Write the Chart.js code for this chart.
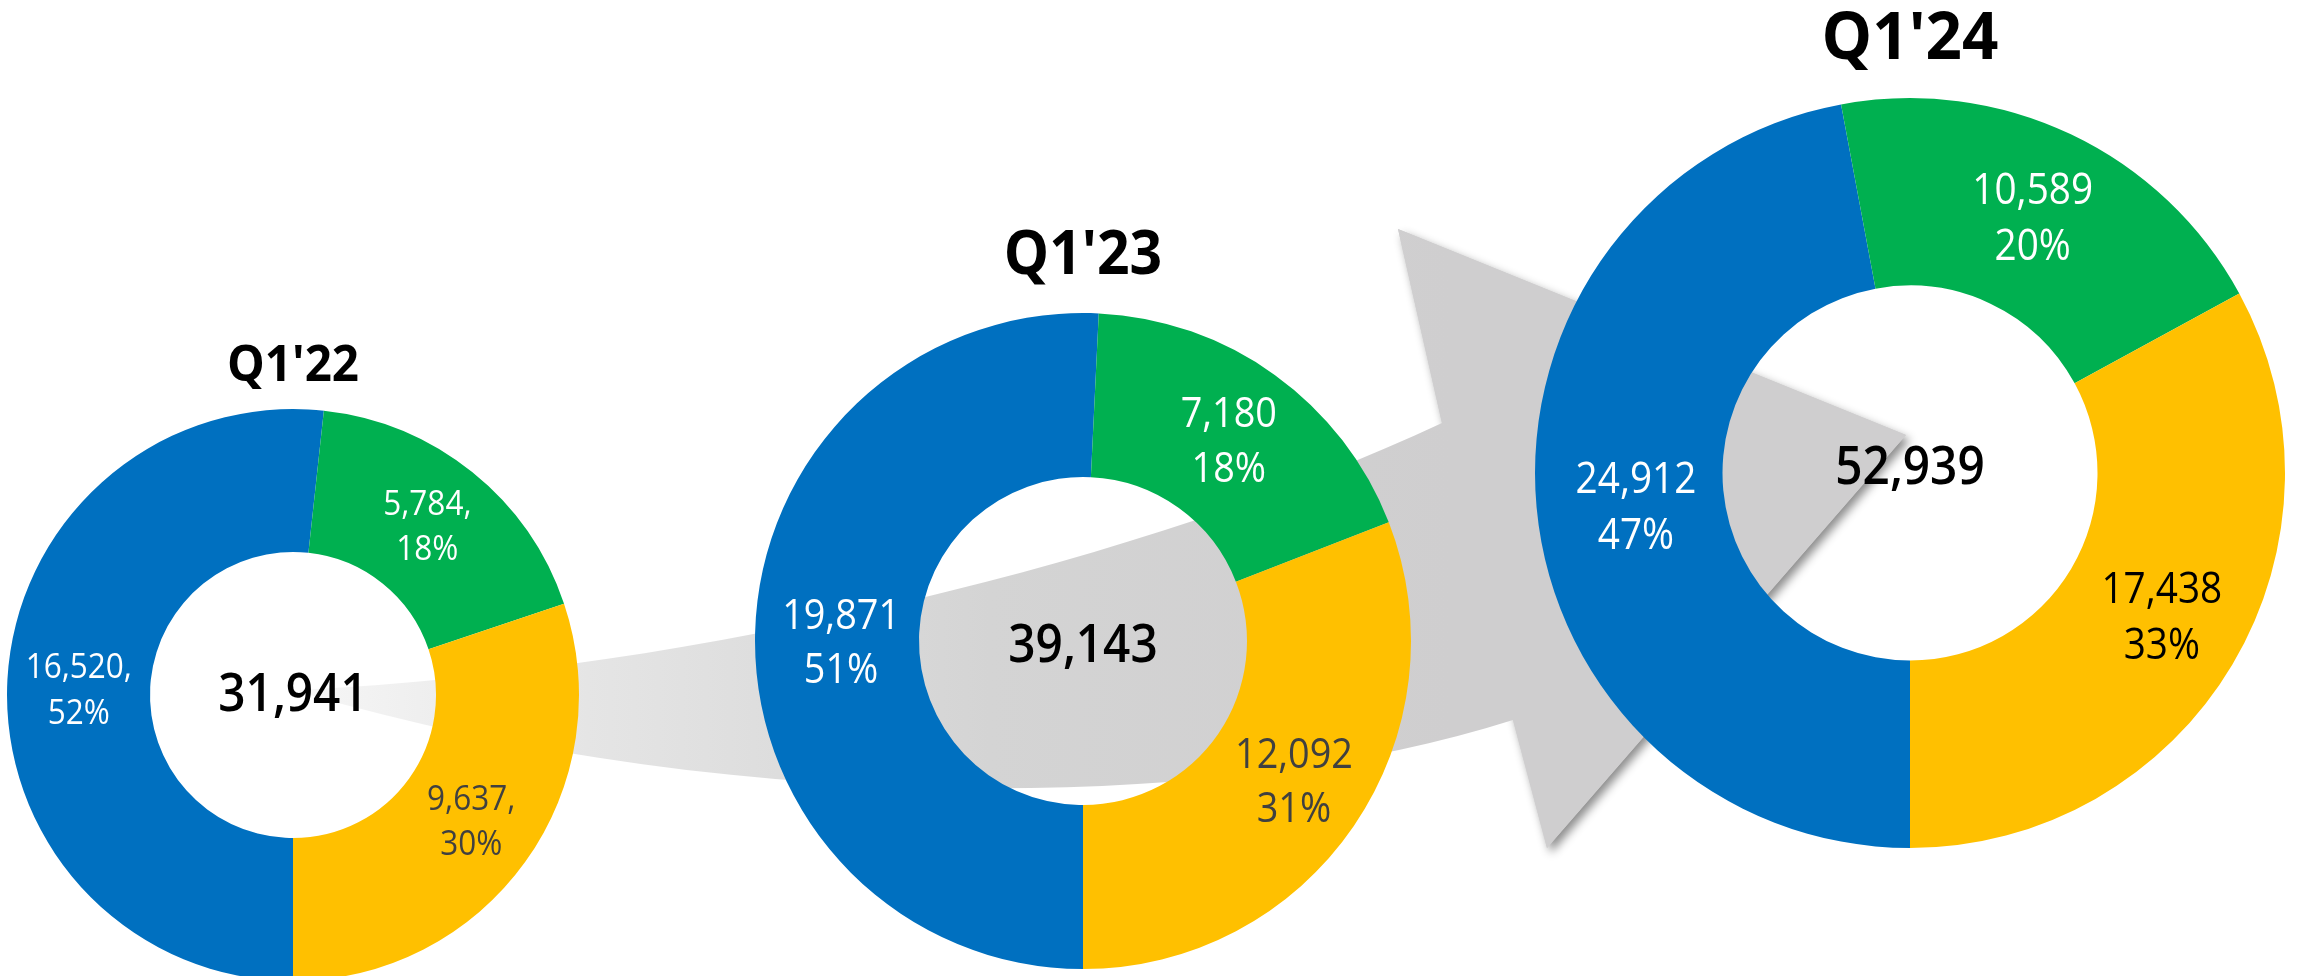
<!DOCTYPE html>
<html>
<head>
<meta charset="utf-8">
<script src="https://cdn.jsdelivr.net/npm/chart.js@4.4.1/dist/chart.umd.min.js"></script>
<style>
  html, body { margin: 0; padding: 0; background: #fff; overflow: hidden; }
  #stage { position: relative; width: 2300px; height: 976px; overflow: hidden; }
  #arrow { position: absolute; left: 0; top: 0; }
  .donut { position: absolute; }
</style>
</head>
<body>
<div id="stage">
  <canvas id="arrow" width="2300" height="976"></canvas>
  <canvas class="donut" id="c0"></canvas>
  <canvas class="donut" id="c1"></canvas>
  <canvas class="donut" id="c2"></canvas>
</div>
<script>
// Data
const quarters = ["Q1'22", "Q1'23", "Q1'24"];
const segmentNames = ["Segment A", "Segment B", "Segment C"];
const q122 = [16520, 5784, 9637];
const q123 = [19871, 7180, 12092];
const q124 = [24912, 10589, 17438];
const quarterValues = [q122, q123, q124];
const sliceColors = ["#0070C0", "#00B050", "#FFC000"];

// Where each donut sits on the page, and its text sizes
const layouts = [
  { cx: 293, cy: 695, r: 286, titleY: 363, titleSize: 50, centerY: 692, centerSize: 53, labelSize: 35, sep: ",",
    labelColors: ["#ffffff", "#ffffff", "#404040"], nudge: [[0, 5], [0, -3], [4, 0]] },
  { cx: 1083, cy: 641, r: 328, titleY: 253, titleSize: 60, centerY: 643, centerSize: 53, labelSize: 42, sep: "",
    labelColors: ["#ffffff", "#ffffff", "#404040"], nudge: [[4, 6], [2, -2], [8, 0]] },
  { cx: 1910, cy: 473, r: 375, titleY: 35, titleSize: 67, centerY: 465, centerSize: 53, labelSize: 43, sep: "",
    labelColors: ["#ffffff", "#ffffff", "#000000"], nudge: [[6, 7], [2, -2], [10, -1]] }
];

const FONT = '"Open Sans", "Noto Sans", sans-serif';
const TEXT_SX = 0.9;   // reference glyphs run a little narrower than Open Sans
const TITLE_SX = 0.95;
const fmt = (v) => v.toLocaleString("en-US");

function squeezedText(ctx, text, x, y, sx) {
  ctx.save();
  ctx.translate(x, y);
  ctx.scale(sx, 1);
  ctx.fillText(text, 0, 0);
  ctx.restore();
}

// Slice labels, total in the hole and the quarter title
const donutText = {
  id: "donutText",
  afterDatasetsDraw(chart, args, opts) {
    const ctx = chart.ctx;
    const arcs = chart.getDatasetMeta(0).data;
    const values = chart.data.datasets[0].data;
    const total = values.reduce((a, b) => a + b, 0);
    const cx = arcs[0].x, cy = arcs[0].y;
    ctx.save();
    ctx.textAlign = "center";
    ctx.textBaseline = "alphabetic";

    ctx.font = `500 ${opts.labelSize}px ${FONT}`;
    const gap = opts.labelSize * 1.3;
    arcs.forEach((arc, i) => {
      const p = arc.getCenterPoint();
      const x = p.x + opts.nudge[i][0];
      const y = p.y + opts.nudge[i][1];
      const lines = [fmt(values[i]) + opts.sep, Math.round(values[i] / total * 100) + "%"];
      ctx.fillStyle = opts.labelColors[i];
      lines.forEach((t, k) => {
        squeezedText(ctx, t, x, y + (k - 0.5) * gap + 0.357 * opts.labelSize, TEXT_SX);
      });
    });

    ctx.fillStyle = "#000000";
    ctx.font = `600 ${opts.centerSize}px ${FONT}`;
    squeezedText(ctx, fmt(total), cx, cy + opts.centerDy + 0.357 * opts.centerSize, TEXT_SX);

    ctx.font = `bold ${opts.titleSize}px ${FONT}`;
    squeezedText(ctx, opts.title, cx, cy + opts.titleDy + 0.357 * opts.titleSize, TITLE_SX);
    ctx.restore();
  }
};

// Big grey arrow behind the donuts
function drawArrow() {
  const ctx = document.getElementById("arrow").getContext("2d");
  const head = [[1442, 423], [1398, 229], [1906, 435], [1547, 848], [1513, 720]];

  ctx.save();
  ctx.shadowColor = "rgba(0,0,0,0.45)";
  ctx.shadowBlur = 10;
  ctx.shadowOffsetX = 4;
  ctx.shadowOffsetY = 5;
  ctx.fillStyle = "#cfcecf";
  ctx.beginPath();
  head.forEach(([x, y], i) => (i ? ctx.lineTo(x, y) : ctx.moveTo(x, y)));
  ctx.closePath();
  ctx.fill();
  ctx.restore();

  const g = ctx.createLinearGradient(300, 0, 1450, 0);
  g.addColorStop(0, "#f6f6f6");
  g.addColorStop(0.25, "#e5e5e5");
  g.addColorStop(0.6, "#d4d4d4");
  g.addColorStop(1, "#cfcecf");
  ctx.fillStyle = g;
  ctx.beginPath();
  ctx.moveTo(300, 690);
  ctx.bezierCurveTo(700, 670, 1150, 560, 1442, 423);
  ctx.lineTo(1398, 229);
  ctx.lineTo(1906, 435);
  ctx.lineTo(1547, 848);
  ctx.lineTo(1513, 720);
  ctx.bezierCurveTo(1200, 820, 700, 810, 300, 692);
  ctx.closePath();
  ctx.fill();
}

function makeDonut(i) {
  const L = layouts[i];
  const canvas = document.getElementById("c" + i);
  const W = 2 * L.r + 40;
  const half = Math.max(L.r + 20, L.cy - L.titleY + L.titleSize);
  const H = 2 * half;
  canvas.width = W;
  canvas.height = H;
  canvas.style.width = W + "px";
  canvas.style.height = H + "px";
  canvas.style.left = (L.cx - W / 2) + "px";
  canvas.style.top = (L.cy - half) + "px";

  new Chart(canvas, {
    type: "doughnut",
    data: {
      labels: segmentNames,
      datasets: [{
        data: quarterValues[i],
        backgroundColor: sliceColors,
        borderWidth: 0,
        hoverOffset: 0
      }]
    },
    options: {
      responsive: false,
      animation: false,
      events: [],
      rotation: 180,
      cutout: "50%",
      radius: L.r,
      layout: { padding: 0 },
      plugins: {
        legend: { display: false },
        tooltip: { enabled: false },
        donutText: {
          title: quarters[i],
          titleSize: L.titleSize,
          titleDy: L.titleY - L.cy,
          centerSize: L.centerSize,
          centerDy: L.centerY - L.cy,
          labelSize: L.labelSize,
          labelColors: L.labelColors,
          sep: L.sep,
          nudge: L.nudge
        }
      }
    },
    plugins: [donutText]
  });
}

drawArrow();
makeDonut(0);
makeDonut(1);
makeDonut(2);
</script>
</body>
</html>
